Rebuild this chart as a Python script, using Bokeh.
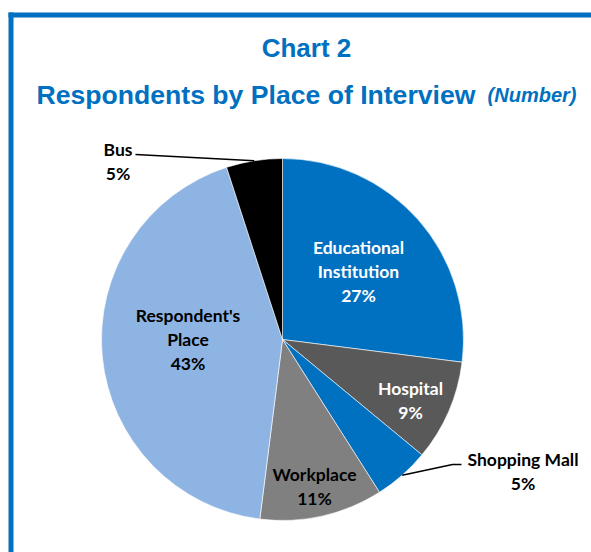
import math
from bokeh.plotting import figure
from bokeh.models import Range1d
from bokeh.core.properties import value
from bokeh.embed import file_html
from bokeh.resources import INLINE

# ---- data ----
categories = ["Educational Institution", "Hospital", "Shopping Mall",
              "Workplace", "Respondent's Place", "Bus"]
label_names = ["Educational\nInstitution", "Hospital", "Shopping Mall",
               "Workplace", "Respondent's\nPlace", "Bus"]
shares = [27, 9, 5, 11, 43, 5]
title_line1 = "Chart 2"
title_line2 = "Respondents by Place of Interview"
title_unit = "(Number)"

# ---- style ----
colors = ["#0070C0", "#595959", "#0070C0", "#808080", "#8EB4E3", "#000000"]
label_colors = ["white", "white", "black", "black", "black", "black"]
inside = [True, True, False, True, True, False]
# inside label centre offsets from pie centre (px, right / down)
inside_offset = [(76, -68), (128, 60.5), None, (32, 146.5), (-94.5, -0.5), None]
BLUE = "#0070C0"
W, H = 591, 552
LABEL_FONT = "Lato"
LABEL_SIZE = "17.5px"
LINE_SP = 24

def X(px):
    return px

def Y(py):
    return H - py

CX, CY, R = X(282), Y(339), 181

# outside label centers (page px) and leader end points
out_label = {"Bus": (117.5, 161), "Shopping Mall": (522.5, 471)}
out_leader_end = {"Bus": [(135, 154)], "Shopping Mall": [(452, 464), (461, 464)]}

p = figure(width=W, height=H, x_range=Range1d(0, W), y_range=Range1d(0, H),
           output_backend="svg", toolbar_location=None, min_border=0,
           x_axis_type=None, y_axis_type=None)
p.grid.visible = False
p.outline_line_color = None
p.background_fill_color = "white"
p.border_fill_color = "white"

# border (top + left)
p.quad(left=[X(8), X(8)], right=[X(13), W], bottom=[0, Y(17)], top=[Y(12), Y(12)],
       fill_color=BLUE, line_color=None)

# titles
p.text(x=[X(306)], y=[Y(47)], text=[title_line1], text_font=value("Liberation Sans"),
       text_font_style="bold", text_font_size="26px", text_color=BLUE,
       text_align="center", text_baseline="alphabetic")
p.text(x=[X(36)], y=[Y(94)], text=[title_line2], text_font=value("Liberation Sans"),
       text_font_style="bold", text_font_size="26.6px", text_color=BLUE,
       text_align="left", text_baseline="alphabetic")
p.text(x=[X(576)], y=[Y(94)], text=[title_unit], text_font=value("Liberation Sans"),
       text_font_style="bold italic", text_font_size="20px", text_color=BLUE,
       text_align="right", text_baseline="alphabetic")

# wedges
total = float(sum(shares))
starts, ends, mids = [], [], []
cum = 0.0
for s in shares:
    a0 = cum / total
    cum += s
    a1 = cum / total
    starts.append(math.pi / 2 - 2 * math.pi * a0)
    ends.append(math.pi / 2 - 2 * math.pi * a1)
    mids.append(2 * math.pi * (a0 + a1) / 2)  # clockwise from top

p.wedge(x=[CX] * len(shares), y=[CY] * len(shares), radius=R,
        start_angle=starts, end_angle=ends, direction="clock",
        fill_color=colors, line_color="white", line_width=0.6)

# labels
for i, cat in enumerate(categories):
    lines = label_names[i].split("\n") + [f"{shares[i]}%"]
    if inside[i]:
        dx, dy = inside_offset[i]
        lx, ly = CX + dx, CY - dy
    else:
        key = label_names[i]
        lx, ly = X(out_label[key][0]), Y(out_label[key][1])
        ex = CX + R * math.sin(mids[i])
        ey = CY + R * math.cos(mids[i])
        pts = [(ex, ey)] + [(X(a), Y(b)) for a, b in out_leader_end[key]]
        p.line(x=[q[0] for q in pts], y=[q[1] for q in pts],
               line_color="black", line_width=1.5)
    n = len(lines)
    for k, t in enumerate(lines):
        yy = ly + (n - 1) / 2 * LINE_SP - k * LINE_SP
        p.text(x=[lx], y=[yy], text=[t], text_font=value(LABEL_FONT),
               text_font_style="bold", text_font_size=LABEL_SIZE,
               text_color=label_colors[i], text_align="center",
               text_baseline="middle")

open("out.html", "w").write(file_html(p, INLINE))
